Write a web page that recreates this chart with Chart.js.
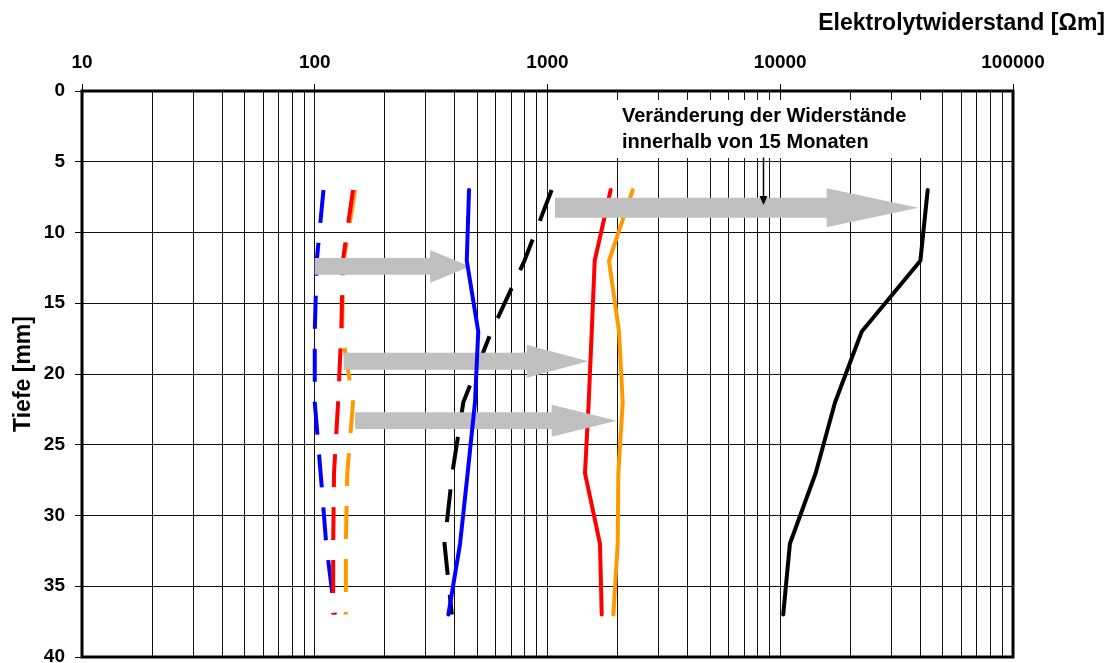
<!DOCTYPE html>
<html lang="de">
<head>
<meta charset="utf-8">
<title>Elektrolytwiderstand über die Tiefe</title>
<script src="https://cdn.jsdelivr.net/npm/chart.js@4.4.1/dist/chart.umd.min.js"></script>
<style>
  html, body { margin: 0; padding: 0; background: #fff; }
  #wrap { width: 1112px; height: 663px; }
</style>
</head>
<body>
<div id="wrap"><canvas id="chart" width="1112" height="663"></canvas></div>
<script>
// Messtiefen [mm]
const depths = [7, 12, 17, 22, 27, 32, 37];

// Elektrolytwiderstand [Ωm] – Ausgangsmessung (gestrichelt)
const blueBefore   = [109, 102, 100, 100, 106, 112, 122];
const redBefore    = [146, 132, 130, 126, 121, 120, 120];
const orangeBefore = [149, 133, 131, 146, 138, 136, 136];
const blackBefore  = [1042, 796, 574, 435, 390, 361, 388];

// Elektrolytwiderstand [Ωm] – nach 15 Monaten (durchgezogen)
const blueAfter   = [460, 450, 504, 488, 454, 421, 375];
const redAfter    = [1868, 1595, 1549, 1503, 1449, 1681, 1710];
const orangeAfter = [2323, 1837, 2029, 2104, 2015, 2003, 1918];
const blackAfter  = [43000, 40000, 22400, 17200, 14200, 11000, 10300];

// Achsenbeschriftung
const decadeTicks = [10, 100, 1000, 10000, 100000];
const depthRange = { min: 0, max: 40, step: 5 };

// Grey change arrows (tail, neck of head, tip in Ωm at a given depth)
const changeArrows = [
  { depth: 12.4, from: 100,  neck: 313,   to: 465 },
  { depth: 19.1, from: 133,  neck: 814,   to: 1497 },
  { depth: 23.3, from: 149,  neck: 1042,  to: 1983 },
  { depth: 8.25, from: 1077, neck: 15830, to: 39170 }
];
const arrowSizes = [
  { shaft: 8.4, head: 16.4 },
  { shaft: 8.4, head: 16.4 },
  { shaft: 8.4, head: 16.0 },
  { shaft: 10,  head: 19.5 }
];

// Pointer from the note down to the big arrow
const notePointer = { value: 8430, fromDepth: 4.7, toDepth: 8.05 };

// Log grid: 1..9 x each decade
const gridValues = decadeTicks.slice(0, -1)
  .flatMap(d => [1, 2, 3, 4, 5, 6, 7, 8, 9].map(k => d * k))
  .concat(decadeTicks[decadeTicks.length - 1]);

const FONT = "'Liberation Sans', Arial, Helvetica, sans-serif";
Chart.defaults.font.family = FONT;
Chart.defaults.color = '#000';

const toPoints = values => values.map((v, i) => ({ x: v, y: depths[i] }));

const DASH = [33, 20];
function dashed(values, color) {
  return {
    data: toPoints(values), borderColor: color, borderWidth: 4,
    borderDash: DASH, borderCapStyle: 'butt', borderJoinStyle: 'round',
    showLine: true, pointRadius: 0, tension: 0, order: 0
  };
}
function solid(values, color, order) {
  return {
    data: toPoints(values), borderColor: color, borderWidth: 4,
    borderCapStyle: 'round', borderJoinStyle: 'round',
    showLine: true, pointRadius: 0, tension: 0, order: order || 0
  };
}

const decorations = {
  id: 'decorations',
  beforeDraw(chart) {
    const ctx = chart.ctx;
    ctx.save();
    ctx.fillStyle = '#fff';
    ctx.fillRect(0, 0, chart.width, chart.height);
    ctx.restore();
  },
  beforeDatasetsDraw(chart) {
    // white note box over the grid
    const ctx = chart.ctx;
    ctx.save();
    ctx.fillStyle = '#fff';
    ctx.fillRect(612, 100, 313, 58);
    ctx.restore();
  },
  beforeDatasetDraw(chart, args) {
    // the arrows sit under the blue solid curve, which is drawn last
    if (args.index !== 0) return;
    const ctx = chart.ctx;
    const xs = chart.scales.x, ys = chart.scales.y;
    ctx.save();
    ctx.fillStyle = '#c0c0c0';
    changeArrows.forEach((a, i) => {
      const s = arrowSizes[i];
      const y = ys.getPixelForValue(a.depth);
      const x0 = xs.getPixelForValue(a.from);
      const x1 = xs.getPixelForValue(a.neck);
      const x2 = xs.getPixelForValue(a.to);
      ctx.beginPath();
      ctx.moveTo(x0, y - s.shaft);
      ctx.lineTo(x1, y - s.shaft);
      ctx.lineTo(x1, y - s.head);
      ctx.lineTo(x2, y);
      ctx.lineTo(x1, y + s.head);
      ctx.lineTo(x1, y + s.shaft);
      ctx.lineTo(x0, y + s.shaft);
      ctx.closePath();
      ctx.fill();
    });
    ctx.restore();
  },
  afterDatasetsDraw(chart) {
    const ctx = chart.ctx;
    const a = chart.chartArea;
    const xs = chart.scales.x, ys = chart.scales.y;
    ctx.save();
    // plot frame
    ctx.strokeStyle = '#000';
    ctx.lineWidth = 3;
    ctx.strokeRect(a.left, a.top, a.right - a.left, a.bottom - a.top);

    // small pointer arrow
    const px = Math.round(xs.getPixelForValue(notePointer.value)) + 0.5;
    const py0 = ys.getPixelForValue(notePointer.fromDepth);
    const py1 = ys.getPixelForValue(notePointer.toDepth);
    ctx.lineWidth = 1.5;
    ctx.beginPath();
    ctx.moveTo(px, py0);
    ctx.lineTo(px, py1 - 8);
    ctx.stroke();
    ctx.fillStyle = '#000';
    ctx.beginPath();
    ctx.moveTo(px - 4, py1 - 9);
    ctx.lineTo(px + 4, py1 - 9);
    ctx.lineTo(px, py1);
    ctx.closePath();
    ctx.fill();
    ctx.restore();
  },
  afterDraw(chart) {
    const ctx = chart.ctx;
    ctx.save();
    ctx.fillStyle = '#000';
    ctx.textBaseline = 'alphabetic';
    ctx.font = 'bold 23px ' + FONT;
    ctx.textAlign = 'right';
    ctx.fillText('Elektrolytwiderstand [Ωm]', 1105, 29.5);

    ctx.font = 'bold 20px ' + FONT;
    ctx.textAlign = 'left';
    ctx.fillText('Veränderung der Widerstände', 622, 122);
    ctx.fillText('innerhalb von 15 Monaten', 622, 148);
    ctx.restore();
  }
};

new Chart(document.getElementById('chart'), {
  type: 'scatter',
  data: {
    datasets: [
      solid(blueAfter, '#0000ff', -1),
      dashed(redBefore, '#ff0000'),
      dashed(orangeBefore, '#ff9900'),
      dashed(blueBefore, '#0000ff'),
      dashed(blackBefore, '#000000'),
      solid(redAfter, '#ff0000'),
      solid(orangeAfter, '#ff9900'),
      solid(blackAfter, '#000000')
    ]
  },
  options: {
    responsive: false,
    devicePixelRatio: 1,
    animation: false,
    layout: { padding: { left: 0, top: 0, right: 99, bottom: 6 } },
    plugins: {
      legend: { display: false },
      tooltip: { enabled: false },
      title: { display: false }
    },
    scales: {
      x: {
        type: 'logarithmic',
        position: 'top',
        min: decadeTicks[0],
        max: decadeTicks[decadeTicks.length - 1],
        afterBuildTicks(scale) {
          scale.ticks = gridValues.map(v => ({ value: v, major: decadeTicks.includes(v) }));
        },
        afterFit(scale) {
          scale.height = 91;
          scale.paddingLeft = 0;
          scale.paddingRight = 0;
        },
        border: { display: false },
        grid: {
          color: '#111',
          lineWidth: 1,
          drawTicks: true,
          tickLength: 7,
          tickWidth: 1,
          tickColor: ctx => (ctx.tick && decadeTicks.includes(ctx.tick.value)) ? '#000' : 'rgba(0,0,0,0)'
        },
        ticks: {
          autoSkip: false,
          maxRotation: 0,
          minRotation: 0,
          padding: 10,
          color: '#000',
          font: { size: 19, weight: 'bold' },
          callback: v => decadeTicks.includes(v) ? String(v) : ''
        }
      },
      y: {
        type: 'linear',
        reverse: true,
        min: depthRange.min,
        max: depthRange.max,
        afterFit(scale) {
          scale.width = 82;
          scale.paddingTop = 0;
          scale.paddingBottom = 0;
        },
        border: { display: false },
        grid: {
          color: '#111',
          lineWidth: 1,
          drawTicks: true,
          tickLength: 7,
          tickColor: '#000'
        },
        ticks: {
          stepSize: depthRange.step,
          padding: 10,
          color: '#000',
          font: { size: 19, weight: 'bold' }
        },
        title: {
          display: true,
          text: 'Tiefe [mm]',
          color: '#000',
          font: { size: 23, weight: 'bold' },
          padding: { top: 10, bottom: 0 }
        }
      }
    }
  },
  plugins: [decorations]
});
</script>
</body>
</html>
